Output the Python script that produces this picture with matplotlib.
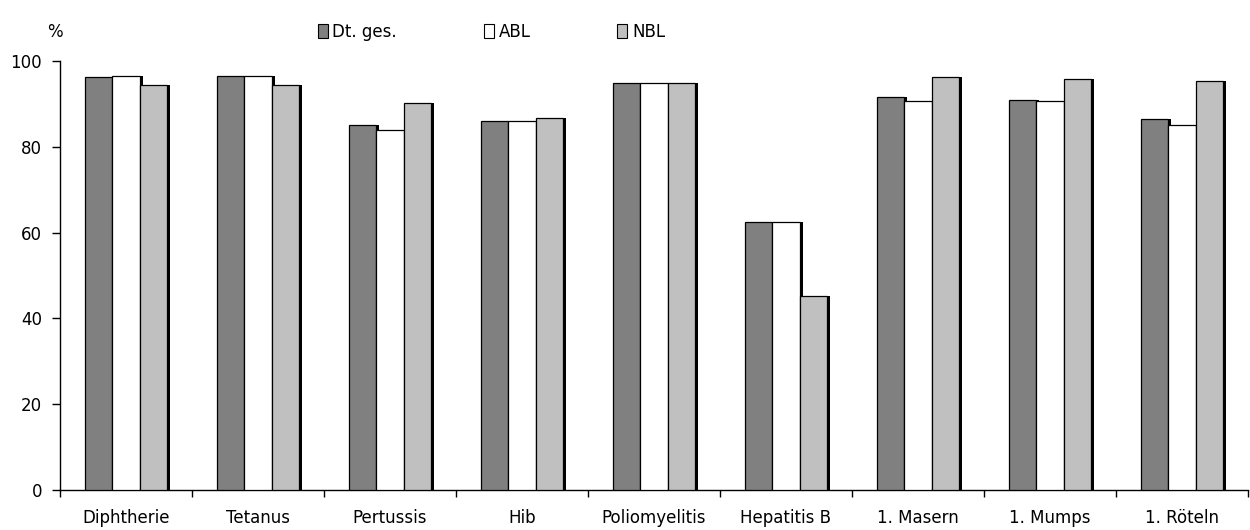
import numpy as np
import matplotlib
matplotlib.use("Agg")
import matplotlib.pyplot as plt
from matplotlib.patches import Patch

plt.rcParams['font.family'] = ['DejaVu Sans']

categories = ['Diphtherie', 'Tetanus', 'Pertussis', 'Hib', 'Poliomyelitis',
              'Hepatitis B', '1. Masern', '1. Mumps', '1. Röteln']
dt_ges = [96.2, 96.6, 85.0, 85.9, 94.8, 62.5, 91.5, 91.0, 86.4]
abl = [96.6, 96.6, 84.0, 85.9, 94.8, 62.5, 90.6, 90.6, 85.0]
nbl = [94.3, 94.3, 90.1, 86.8, 94.8, 45.2, 96.2, 95.7, 95.3]

series = [('Dt. ges.', dt_ges, '#808080'),
          ('ABL', abl, '#ffffff'),
          ('NBL', nbl, '#c0c0c0')]

fig = plt.figure(figsize=(12.5, 5.3), dpi=100)
ax = fig.add_axes([0.048, 0.0755, 0.9504, 0.8095])

x = np.arange(len(categories))
w = 0.208
shadow = 0.022

for i, (name, vals, col) in enumerate(series):
    pos = x + (i - 1) * w
    # black drop shadow on the right side of each bar
    ax.bar(pos + shadow, vals, w, color='black', zorder=2)
    ax.bar(pos, vals, w, color=col, edgecolor='black', linewidth=0.9, zorder=3)

ax.set_xlim(-0.5, len(categories) - 0.5)
ax.set_ylim(0, 100)
ax.set_yticks(range(0, 101, 20))
ax.set_xticks(x)
ax.set_xticklabels(categories)
ax.set_xticks(np.arange(-0.5, len(categories)), minor=True)
ax.tick_params(axis='x', which='major', length=0, pad=14, labelsize=12)
ax.tick_params(axis='x', which='minor', length=5, width=1, direction='out')
ax.tick_params(axis='y', length=6, width=1, pad=7, labelsize=12)

for s in ['top', 'right']:
    ax.spines[s].set_visible(False)
for s in ['left', 'bottom']:
    ax.spines[s].set_linewidth(1)

fig.text(0.044, 0.94, '%', fontsize=12, ha='center', va='center')

handles = [Patch(facecolor=c, edgecolor='black', linewidth=0.8) for _, _, c in series]
fig.legend(handles, [n for n, _, _ in series], loc='center left',
           bbox_to_anchor=(0.254, 0.94), ncol=3, frameon=False, fontsize=12,
           handlelength=0.6, handleheight=0.9, handletextpad=0.3,
           columnspacing=5.2, borderpad=0, borderaxespad=0)

fig.savefig('out.png', dpi=100)
